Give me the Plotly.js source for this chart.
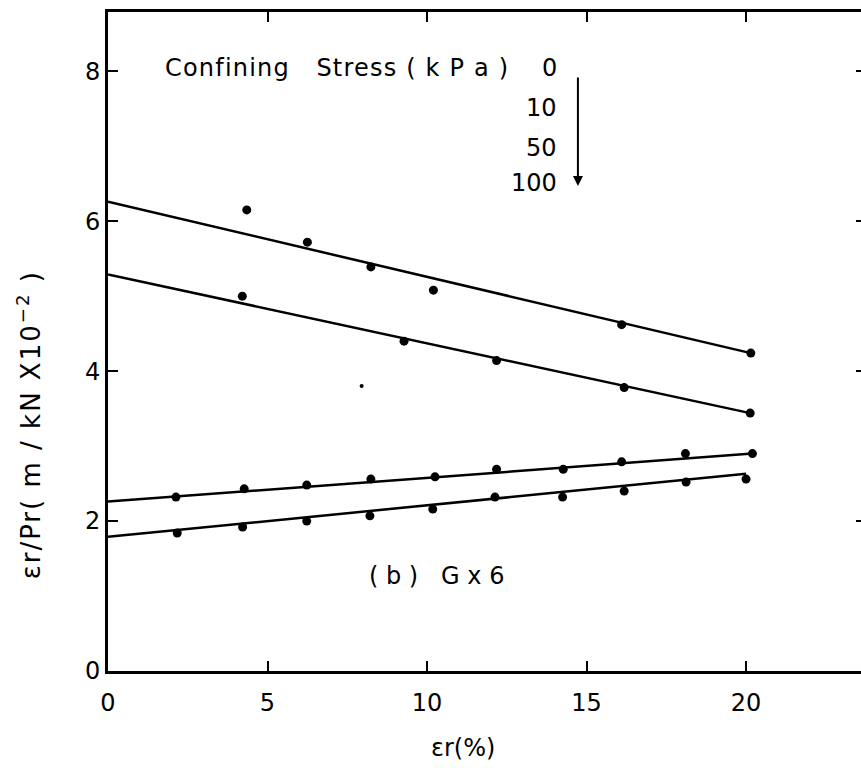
<!DOCTYPE html>
<html>
<head>
<meta charset="utf-8">
<script src="https://cdn.plot.ly/plotly-3.0.1.min.js"></script>
<style>
html,body{margin:0;padding:0;background:#fff;overflow:hidden;}
#chart{width:866px;height:768px;}
</style>
</head>
<body>
<div id="chart"></div>
<script>
// ---- data ----
// 0 kPa series (top)
const aX = [4.35, 6.25, 8.24, 10.2, 16.1, 20.15];
const aY = [6.15, 5.72, 5.39, 5.08, 4.62, 4.24];
const aLineX = [0, 20.15];
const aLineY = [6.26, 4.24];
// 10 kPa series
const bX = [4.21, 9.28, 12.18, 16.18, 20.13];
const bY = [5.00, 4.40, 4.14, 3.78, 3.44];
const bLineX = [0, 20.13];
const bLineY = [5.29, 3.44];
const strayX = [7.95];
const strayY = [3.80];
// 50 kPa series
const cX = [2.13, 4.27, 6.23, 8.24, 10.25, 12.18, 14.27, 16.1, 18.1, 20.2];
const cY = [2.32, 2.43, 2.48, 2.56, 2.59, 2.69, 2.69, 2.79, 2.90, 2.90];
const cLineX = [0, 20.2];
const cLineY = [2.26, 2.90];
// 100 kPa series
const dX = [2.17, 4.22, 6.23, 8.21, 10.18, 12.13, 14.25, 16.18, 18.12, 20.0];
const dY = [1.84, 1.92, 2.00, 2.07, 2.16, 2.32, 2.32, 2.40, 2.52, 2.56];
const dLineX = [0, 20.0];
const dLineY = [1.79, 2.63];

const xTicks = [0, 5, 10, 15, 20];
const yTicks = [0, 2, 4, 6, 8];
const stressLabels = ['0', '10', '50', '100'];

const FONT = '"DejaVu Sans", sans-serif';

function lineTrace(x, y) {
  return {x: x, y: y, mode: 'lines', type: 'scatter',
          line: {color: '#000', width: 2.5}, hoverinfo: 'skip', showlegend: false};
}
function ptTrace(x, y, size) {
  return {x: x, y: y, mode: 'markers', type: 'scatter',
          marker: {color: '#000', size: size || 9}, showlegend: false};
}

const traces = [
  lineTrace(aLineX, aLineY), ptTrace(aX, aY),
  lineTrace(bLineX, bLineY), ptTrace(bX, bY), ptTrace(strayX, strayY, 4),
  lineTrace(cLineX, cLineY), ptTrace(cX, cY),
  lineTrace(dLineX, dLineY), ptTrace(dX, dY)
];

const stressY = [8.04, 7.51, 6.97, 6.51];
const annotations = [
  {x: 1.72, y: 8.04, xref: 'x', yref: 'y', xanchor: 'left', yanchor: 'middle',
   text: '<span style="letter-spacing:1.2px">Confining &nbsp; Stress ( k P a )</span>', showarrow: false,
   font: {family: FONT, size: 24, color: '#000'}},
  {x: 10.3, y: 1.27, xref: 'x', yref: 'y', xanchor: 'center', yanchor: 'middle',
   text: '( b ) &nbsp; G x 6', showarrow: false,
   font: {family: FONT, size: 24, color: '#000'}},
  {x: 14.73, y: 6.47, xref: 'x', yref: 'y', ax: 0, ay: -124, text: ' ',
   showarrow: true, arrowhead: 2, arrowsize: 1, arrowwidth: 2, arrowcolor: '#000'},
  {x: -0.104, y: 0.373, xref: 'paper', yref: 'paper', textangle: -90,
   xanchor: 'center', yanchor: 'middle', showarrow: false,
   text: '<span style="letter-spacing:2px">εr/Pr( m / kN X10<sup>−2</sup> )</span>',
   font: {family: FONT, size: 26, color: '#000'}},
  {x: 0.468, y: -0.117, xref: 'paper', yref: 'paper', xanchor: 'center', yanchor: 'middle',
   showarrow: false, text: 'εr(%)',
   font: {family: FONT, size: 24, color: '#000'}}
];
stressLabels.forEach(function (s, i) {
  annotations.push({x: 14.14, y: stressY[i], xref: 'x', yref: 'y', xanchor: 'right',
    yanchor: 'middle', text: s, showarrow: false,
    font: {family: FONT, size: 24, color: '#000'}});
});

const layout = {
  width: 866, height: 768,
  margin: {l: 108, r: 0, t: 12, b: 97},
  paper_bgcolor: '#fff', plot_bgcolor: '#fff',
  font: {family: FONT, size: 24, color: '#000'},
  xaxis: {range: [0, 23.76], tickvals: xTicks, ticktext: xTicks.map(String),
          showline: true, linewidth: 3, linecolor: '#000', mirror: 'ticks',
          ticks: 'inside', ticklen: 10, tickwidth: 2, tickcolor: '#000',
          ticklabelstandoff: 8,
          showgrid: false, zeroline: false, tickfont: {family: FONT, size: 24}},
  yaxis: {range: [0, 8.79], tickvals: yTicks, ticktext: yTicks.map(String),
          showline: true, linewidth: 3, linecolor: '#000', mirror: 'ticks',
          ticks: 'inside', ticklen: 10, tickwidth: 2, tickcolor: '#000',
          showgrid: false, zeroline: false, tickfont: {family: FONT, size: 24}},
  annotations: annotations,
  showlegend: false
};

Plotly.newPlot('chart', traces, layout, {displayModeBar: false, staticPlot: true});
</script>
</body>
</html>
